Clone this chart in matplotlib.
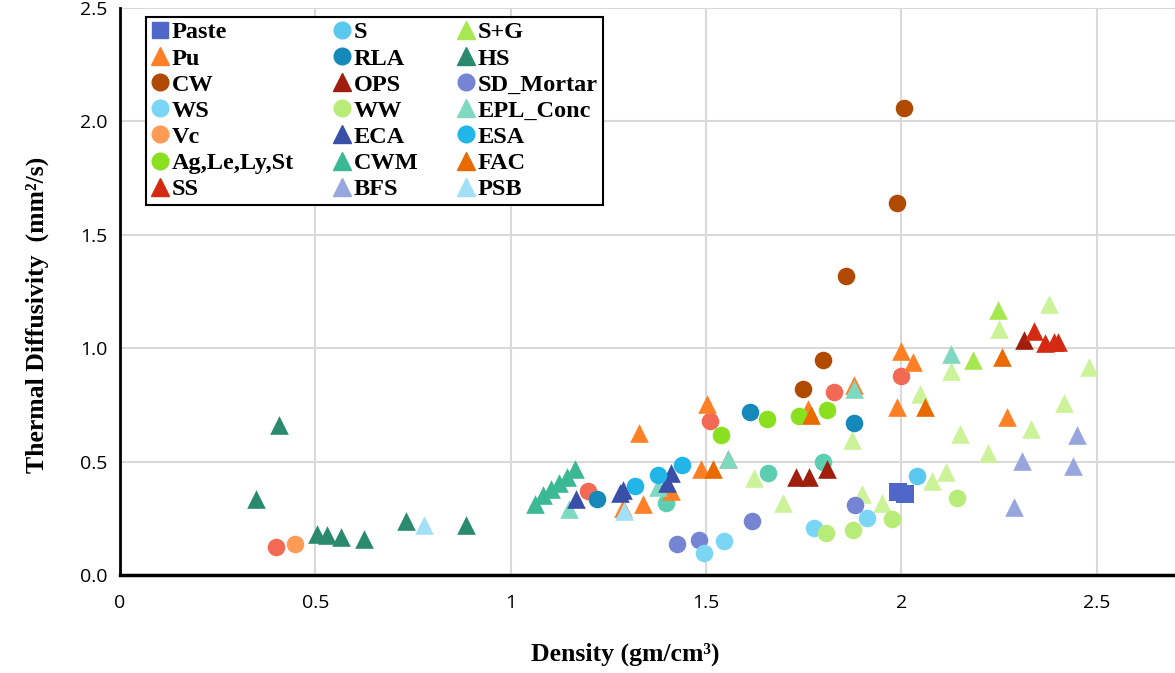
import numpy as np
import matplotlib
matplotlib.use('Agg')
import matplotlib.pyplot as plt
from matplotlib.lines import Line2D

plt.rcParams['font.family'] = ['Open Sans', 'DejaVu Sans']

# density (gm/cm3), thermal diffusivity (mm2/s) for each material group
paste_x = [1.99, 2.01]
paste_y = [0.367, 0.357]
s_x = [2.04]
s_y = [0.437]
sg_x = [2.246, 2.184]
sg_y = [1.167, 0.950]
pu_x = [1.327, 1.503, 1.287, 1.338, 1.409, 1.487, 1.557, 1.760, 1.878, 1.998, 2.029, 1.989, 2.269]
pu_y = [0.627, 0.756, 0.294, 0.313, 0.371, 0.466, 0.510, 0.730, 0.837, 0.987, 0.937, 0.739, 0.697]
rla_x = [1.222, 1.612, 1.878]
rla_y = [0.333, 0.717, 0.671]
hs_x = [0.349, 0.407, 0.505, 0.529, 0.566, 0.625, 0.731, 0.885]
hs_y = [0.333, 0.660, 0.180, 0.175, 0.166, 0.160, 0.239, 0.222]
cw_x = [1.748, 1.798, 1.859, 1.988, 2.007]
cw_y = [0.819, 0.948, 1.319, 1.639, 2.060]
ops_x = [1.729, 1.763, 1.810, 2.313]
ops_y = [0.433, 0.433, 0.466, 1.035]
sd_x = [1.425, 1.482, 1.617, 1.881]
sd_y = [0.137, 0.154, 0.239, 0.310]
ws_x = [1.494, 1.545, 1.777, 1.912]
ws_y = [0.098, 0.148, 0.208, 0.250]
ww_x = [1.808, 1.876, 1.975, 2.142]
ww_y = [0.186, 0.198, 0.247, 0.341]
epl_x = [1.148, 1.376, 1.557, 1.878, 2.128]
epl_y = [0.292, 0.389, 0.510, 0.818, 0.976]
vc_x = [0.448]
vc_y = [0.137]
eca_x = [1.168, 1.280, 1.288, 1.399, 1.410]
eca_y = [0.333, 0.360, 0.374, 0.407, 0.448]
esa_x = [1.318, 1.378, 1.438]
esa_y = [0.393, 0.440, 0.483]
ag_x = [1.539, 1.657, 1.737, 1.809]
ag_y = [0.618, 0.687, 0.700, 0.727]
cwm_x = [1.063, 1.082, 1.102, 1.123, 1.143, 1.164]
cwm_y = [0.313, 0.351, 0.377, 0.407, 0.433, 0.468]
fac_x = [1.518, 1.768, 2.061, 2.257]
fac_y = [0.466, 0.705, 0.741, 0.959]
ss_x = [2.338, 2.368, 2.390, 2.400]
ss_y = [1.075, 1.023, 1.029, 1.029]
bfs_x = [2.289, 2.309, 2.438, 2.449]
bfs_y = [0.298, 0.501, 0.480, 0.617]
psb_x = [0.778, 1.289]
psb_y = [0.219, 0.283]
# groups plotted without a legend entry
oth_c_x = [0.398, 1.199, 1.509, 1.828, 1.998]
oth_c_y = [0.125, 0.369, 0.678, 0.808, 0.877]
oth_t_x = [1.398, 1.658, 1.798]
oth_t_y = [0.319, 0.448, 0.499]
oth_g_x = [1.623, 1.698, 1.874, 1.900, 1.949, 2.048, 2.079, 2.115, 2.128,
           2.149, 2.222, 2.249, 2.332, 2.378, 2.416, 2.481]
oth_g_y = [0.426, 0.319, 0.595, 0.355, 0.319, 0.796, 0.414, 0.452, 0.899,
           0.620, 0.536, 1.084, 0.642, 1.194, 0.759, 0.915]

series = [
    ('Paste', paste_x, paste_y, 's', '#4F67C9'),
    ('S', s_x, s_y, 'o', '#5BC8F0'),
    ('S+G', sg_x, sg_y, '^', '#A6E84F'),
    ('Pu', pu_x, pu_y, '^', '#FF7F27'),
    ('RLA', rla_x, rla_y, 'o', '#1589B9'),
    ('HS', hs_x, hs_y, '^', '#2A8A6E'),
    ('CW', cw_x, cw_y, 'o', '#B04A00'),
    ('OPS', ops_x, ops_y, '^', '#A01E0E'),
    ('SD_Mortar', sd_x, sd_y, 'o', '#7585D4'),
    ('WS', ws_x, ws_y, 'o', '#7AD6F4'),
    ('WW', ww_x, ww_y, 'o', '#B8EC78'),
    ('EPL_Conc', epl_x, epl_y, '^', '#7FD8C0'),
    ('Vc', vc_x, vc_y, 'o', '#FF9B55'),
    ('ECA', eca_x, eca_y, '^', '#3A4FA8'),
    ('ESA', esa_x, esa_y, 'o', '#22B5E8'),
    ('Ag,Le,Ly,St', ag_x, ag_y, 'o', '#8AE01E'),
    ('CWM', cwm_x, cwm_y, '^', '#3BB894'),
    ('FAC', fac_x, fac_y, '^', '#E86A00'),
    ('SS', ss_x, ss_y, '^', '#D42A12'),
    ('BFS', bfs_x, bfs_y, '^', '#98A6DE'),
    ('PSB', psb_x, psb_y, '^', '#A2E0F7'),
]
extra = [
    (oth_g_x, oth_g_y, '^', '#CCF29A'),
    (oth_t_x, oth_t_y, 'o', '#5CCFB2'),
    (oth_c_x, oth_c_y, 'o', '#F26A55'),
]

fig = plt.figure(figsize=(11.75, 6.73), dpi=100)
ax = fig.add_axes([120 / 1175, 98 / 673, 1 - 120 / 1175, 567 / 673])

sizes = {'o': 160, '^': 180, 's': 150}
for x, y, m, c in extra:
    ax.scatter(x, y, marker=m, s=sizes[m], color=c, linewidths=0, zorder=3)
for name, x, y, m, c in series:
    ax.scatter(x, y, marker=m, s=sizes[m], color=c, linewidths=0, zorder=3)

ax.set_xlim(0, 2.7)
ax.set_ylim(0, 2.5)
ax.set_xticks([0, 0.5, 1, 1.5, 2, 2.5])
ax.set_xticklabels(['0', '0.5', '1', '1.5', '2', '2.5'])
ax.set_yticks(np.arange(0, 2.51, 0.5))
ax.set_yticklabels([f'{v:.1f}' for v in np.arange(0, 2.51, 0.5)])
ax.tick_params(length=0, labelsize=14, pad=14)
ax.tick_params(axis='y', pad=9)
ax.grid(True, color='#D9D9D9', lw=1.5)
ax.set_axisbelow(True)
for side in ['top', 'right']:
    ax.spines[side].set_visible(False)
ax.spines['left'].set_linewidth(2)
ax.spines['bottom'].set_linewidth(2.5)

serif = {'family': 'Liberation Serif', 'weight': 'bold', 'size': 18.5}
ax.set_xlabel('Density (gm/cm³)', fontdict=serif)
ax.set_ylabel('Thermal Diffusivity  (mm²/s)', fontdict=serif)
ax.xaxis.set_label_coords(0.479, -0.12)
ax.yaxis.set_label_coords(-0.067, 0.459)

# legend laid out row by row like the original (matplotlib fills by column)
handles = [Line2D([], [], ls='', marker=m, color=c, markersize=12 if m != '^' else 13)
           for name, x, y, m, c in series]
labels = [s[0] for s in series]
order = [r * 3 + c for c in range(3) for r in range(7)]
leg = ax.legend([handles[i] for i in order], [labels[i] for i in order], ncol=3,
                loc='upper left', bbox_to_anchor=(0.025, 0.985), borderaxespad=0,
                prop={'family': 'Liberation Serif', 'weight': 'bold', 'size': 17.5},
                handlelength=0.7, handletextpad=0.15, columnspacing=1.6,
                labelspacing=0.17, fancybox=False, framealpha=1, borderpad=0.2)
leg.get_frame().set_edgecolor('black')
leg.get_frame().set_linewidth(1.5)

fig.savefig('out.png', dpi=100)
